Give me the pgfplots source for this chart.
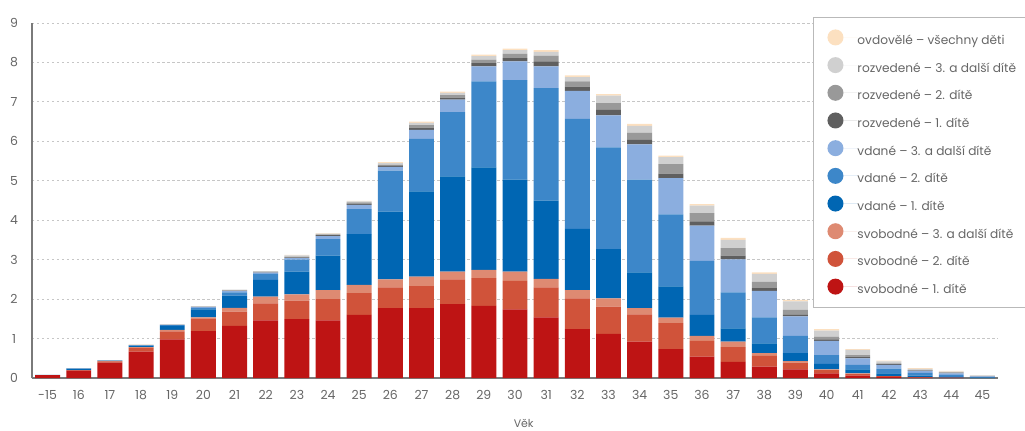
\documentclass[border=0pt]{standalone}
\usepackage{pgfplots}
\pgfplotsset{compat=1.18}
\usepackage{pgfplotstable}
\usepackage{fontspec}
\setmainfont{Poppins}
\definecolor{cS1}{HTML}{BE1414}
\definecolor{cS2}{HTML}{D0533A}
\definecolor{cS3}{HTML}{DE8A72}
\definecolor{cV1}{HTML}{0066B3}
\definecolor{cV2}{HTML}{3D87C9}
\definecolor{cV3}{HTML}{8BAEDF}
\definecolor{cR1}{HTML}{5F5F5F}
\definecolor{cR2}{HTML}{999999}
\definecolor{cR3}{HTML}{D0D0D0}
\definecolor{cO}{HTML}{FCE0C0}
\definecolor{txt}{HTML}{666666}
\definecolor{axl}{HTML}{7A7A7A}
\pgfplotstableread{
x  s1    s2    s3    v1    v2    v3    r1    r2    r3    o
0  0.07  0.005 0     0.005 0     0     0     0     0     0
1  0.19  0.01  0     0.03  0.01  0.005 0     0.005 0     0
2  0.39  0.03  0.005 0.01  0.005 0     0     0.005 0.005 0
3  0.67  0.09  0.02  0.04  0.01  0.005 0     0.005 0     0.005
4  0.98  0.20  0.04  0.10  0.02  0.01  0     0.005 0.005 0
5  1.19  0.30  0.05  0.20  0.04  0.02  0     0.01  0.01  0
6  1.32  0.36  0.10  0.31  0.08  0.03  0.01  0.01  0.02  0
7  1.46  0.43  0.17  0.43  0.15  0.03  0.01  0.01  0.02  0
8  1.49  0.47  0.16  0.58  0.30  0.04  0.02  0.02  0.03  0.01
9  1.46  0.54  0.23  0.87  0.42  0.08  0.02  0.02  0.02  0.01
10 1.60  0.55  0.21  1.29  0.63  0.11  0.03  0.03  0.03  0.01
11 1.77  0.53  0.20  1.72  1.04  0.09  0.03  0.03  0.04  0.02
12 1.77  0.56  0.24  2.16  1.33  0.23  0.06  0.06  0.06  0.03
13 1.87  0.63  0.20  2.41  1.63  0.32  0.05  0.06  0.06  0.03
14 1.83  0.70  0.21  2.60  2.18  0.38  0.08  0.09  0.09  0.04
15 1.74  0.72  0.24  2.33  2.52  0.48  0.08  0.11  0.09  0.04
16 1.54  0.76  0.21  1.99  2.85  0.55  0.13  0.14  0.10  0.04
17 1.24  0.78  0.21  1.55  2.79  0.71  0.11  0.13  0.11  0.04
18 1.12  0.69  0.21  1.25  2.58  0.81  0.14  0.17  0.19  0.04
19 0.92  0.69  0.16  0.91  2.35  0.89  0.12  0.18  0.17  0.05
20 0.73  0.66  0.14  0.79  1.83  0.92  0.11  0.24  0.18  0.04
21 0.54  0.40  0.13  0.53  1.37  0.89  0.11  0.21  0.19  0.04
22 0.41  0.37  0.14  0.34  0.91  0.84  0.09  0.19  0.21  0.05
23 0.29  0.27  0.07  0.25  0.66  0.67  0.07  0.16  0.20  0.04
24 0.22  0.17  0.04  0.20  0.44  0.49  0.04  0.13  0.21  0.04
25 0.12  0.08  0.02  0.14  0.22  0.36  0.04  0.07  0.15  0.04
26 0.06  0.04  0.02  0.10  0.11  0.17  0.04  0.04  0.13  0.02
27 0.03  0.02  0     0.07  0.12  0.09  0.02  0.02  0.05  0.02
28 0.01  0.01  0     0.04  0.07  0.05  0.01  0.01  0.03  0.02
29 0.005 0.005 0     0.02  0.05  0.04  0.01  0.01  0.02  0.02
30 0     0     0     0.01  0.01  0.02  0.005 0.005 0.015 0.005
}\data
\pgfplotsset{dotlegend/.style={legend image code/.code={\fill[##1,draw=none] (8bp,0.3em) circle (8bp); \path (0bp,0.3em) -- (30bp,0.3em);}}}
\begin{document}
\begin{tikzpicture}
\begin{axis}[
  at={(0,0)}, anchor=south west, scale only axis,
  width=966bp, height=355bp,
  xmin=-0.5, xmax=30.5, ymin=0, ymax=9,
  ybar stacked, bar width=0.8,
  axis x line*=bottom, axis y line*=left,
  axis line style={axl, line width=2bp},
  major tick length=0pt,
  ytick={0,...,9},
  xtick={0,...,30},
  xticklabels={-15,16,17,18,19,20,21,22,23,24,25,26,27,28,29,30,31,32,33,34,35,36,37,38,39,40,41,42,43,44,45},
  ymajorgrids,
  grid style={dash pattern=on 2.5bp off 2.5bp, gray!45, line width=0.9bp},
  ticklabel style={font=\fontsize{12.5}{14}\selectfont, text=txt},
  /pgf/number format/assume math mode=true,
  xticklabel style={anchor=center, yshift=-17bp},
  yticklabel style={anchor=center, xshift=-18bp},
  xlabel={Věk},
  xlabel style={font=\fontsize{11}{13}\selectfont, text=txt, at={(axis description cs:0.509,0)}, anchor=center, yshift=-45bp},
  legend style={at={(0.8085,1.017)}, anchor=north west, draw=gray!55, line width=0.9bp, fill=white,
    font=\fontsize{12.2}{14}\selectfont, text=txt, inner xsep=14bp, inner ysep=12bp,
    nodes={inner sep=0pt}, row sep=11.2bp},
  legend cell align=left,
  reverse legend,
]
\addplot[fill=cS1, draw=none, dotlegend] table[x=x, y=s1] {\data};
\addplot[fill=cS2, draw=none, dotlegend] table[x=x, y=s2] {\data};
\addplot[fill=cS3, draw=none, dotlegend] table[x=x, y=s3] {\data};
\addplot[fill=cV1, draw=none, dotlegend] table[x=x, y=v1] {\data};
\addplot[fill=cV2, draw=none, dotlegend] table[x=x, y=v2] {\data};
\addplot[fill=cV3, draw=none, dotlegend] table[x=x, y=v3] {\data};
\addplot[fill=cR1, draw=none, dotlegend] table[x=x, y=r1] {\data};
\addplot[fill=cR2, draw=none, dotlegend] table[x=x, y=r2] {\data};
\addplot[fill=cR3, draw=none, dotlegend] table[x=x, y=r3] {\data};
\addplot[fill=cO, draw=none, dotlegend] table[x=x, y=o] {\data};
\legend{svobodné – 1. dítě, svobodné – 2. dítě, svobodné – 3. a další dítě, vdané – 1. dítě, vdané – 2. dítě, vdané – 3. a další dítě, rozvedené – 1. dítě, rozvedené – 2. dítě, rozvedené – 3. a další dítě, ovdovělé – všechny děti}
\end{axis}
\pgfresetboundingbox
\path (-32bp,-53bp) rectangle (993bp,378bp);
\end{tikzpicture}
\end{document}
